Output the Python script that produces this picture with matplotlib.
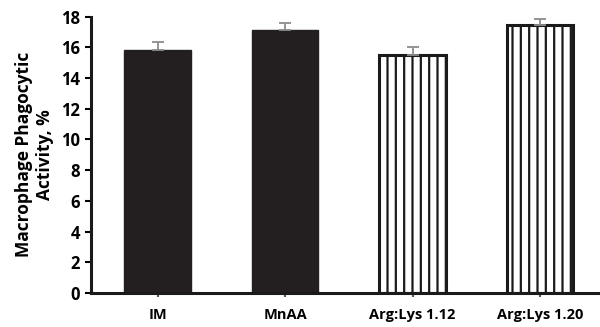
import numpy as np
import matplotlib.pyplot as plt

groups = ['IM', 'MnAA', 'Arg:Lys 1.12', 'Arg:Lys 1.20']
activity = [15.85, 17.15, 15.48, 17.48]
sem = [0.48, 0.44, 0.52, 0.39]
hatched = [False, False, True, True]

plt.rcParams['font.family'] = ['Open Sans', 'DejaVu Sans']
plt.rcParams['hatch.linewidth'] = 1.6

fig = plt.figure(figsize=(6, 3.27), dpi=100)
ax = fig.add_axes([0.152, 0.104, 0.848, 0.845])

x = np.arange(len(groups))
for i in range(len(groups)):
    if hatched[i]:
        ax.bar(x[i], activity[i], width=0.52, color='white', edgecolor='#1a1a1a',
               hatch='||', linewidth=2.2, zorder=2)
    else:
        ax.bar(x[i], activity[i], width=0.52, color='#231f20', edgecolor='#231f20',
               linewidth=1, zorder=2)

# only upper half of error bar shows
ax.errorbar(x, activity, yerr=[np.zeros(len(sem)), sem], fmt='none', ecolor='#8c8c8c',
            elinewidth=1.3, capsize=4, capthick=1.3, zorder=3)

ax.set_xlim(-0.52, 3.47)
ax.set_ylim(0, 18)
ax.set_yticks(range(0, 19, 2))
ax.set_xticks(x)
ax.set_xticklabels(groups, fontsize=10.5, fontweight='bold')
for lab in ax.get_yticklabels():
    lab.set_fontweight('bold')
    lab.set_fontsize(12)

ax.set_ylabel('Macrophage Phagocytic\nActivity, %', fontsize=12.5, fontweight='bold',
              linespacing=1.25, labelpad=5)

for s in ['top', 'right']:
    ax.spines[s].set_visible(False)
for s in ['left', 'bottom']:
    ax.spines[s].set_linewidth(2.2)
    ax.spines[s].set_color('#1a1a1a')
ax.tick_params(axis='y', direction='out', length=4, width=1.5, pad=4)
ax.tick_params(axis='x', direction='out', length=3, width=1.5, pad=8, color='#555555')

fig.savefig('out.png', dpi=100)
